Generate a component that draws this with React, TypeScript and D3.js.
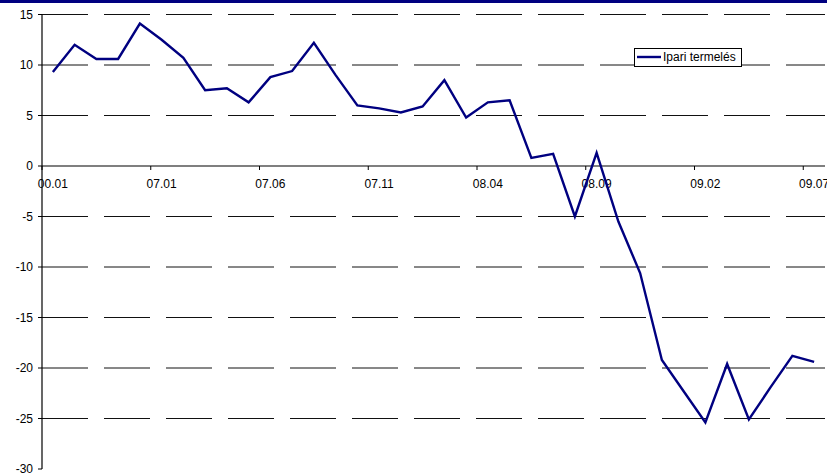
import React from "react";
import * as d3 from "d3";

const categories: string[] = [
  "06.08","06.09","06.10","06.11","06.12","07.01","07.02","07.03","07.04","07.05",
  "07.06","07.07","07.08","07.09","07.10","07.11","07.12","08.01","08.02","08.03",
  "08.04","08.05","08.06","08.07","08.08","08.09","08.10","08.11","08.12","09.01",
  "09.02","09.03","09.04","09.05","09.06","09.07",
];
const values: number[] = [
  9.3, 12.0, 10.6, 10.6, 14.1, 12.5, 10.7, 7.5, 7.7, 6.3,
  8.8, 9.4, 12.2, 9.0, 6.0, 5.7, 5.3, 5.9, 8.5, 4.8,
  6.3, 6.5, 0.8, 1.2, -5.0, 1.3, -5.5, -10.6, -19.2, -22.3,
  -25.4, -19.6, -25.1, -21.9, -18.8, -19.4,
];
const tickLabels: { index: number; label: string }[] = [
  { index: 0, label: "00.01" },
  { index: 5, label: "07.01" },
  { index: 10, label: "07.06" },
  { index: 15, label: "07.11" },
  { index: 20, label: "08.04" },
  { index: 25, label: "08.09" },
  { index: 30, label: "09.02" },
  { index: 35, label: "09.07" },
];
const yTicks: number[] = [15, 10, 5, 0, -5, -10, -15, -20, -25, -30];
const seriesName = "Ipari termelés";

export default function App() {
  const W = 827, H = 475;
  const left = 42, right = 825, top = 14.5, bottom = 469;
  const x = d3.scaleBand<string>().domain(categories).range([left, right]).paddingInner(0).paddingOuter(0);
  const y = d3.scaleLinear().domain([-30, 15]).range([bottom, top]);
  const cx = (i: number) => (x(categories[i]) as number) + x.bandwidth() / 2;
  const line = d3.line<number>().x((_, i) => cx(i)).y((d) => y(d));
  const font = "'Liberation Sans', Arial, sans-serif";
  const y0 = y(0);

  return (
    <svg width={W} height={H} style={{ position: "absolute", left: 0, top: 0, background: "#fff" }}>
      <rect x={0} y={0} width={W} height={H} fill="#fff" />
      <rect x={0} y={0} width={W} height={3} fill="#000080" />
      {/* gridlines */}
      {yTicks.filter((t) => t !== 0 && t !== -30).map((t) => (
        <line key={"g" + t} x1={left} x2={right} y1={y(t)} y2={y(t)} stroke="#111" strokeWidth={1} strokeDasharray="46 16" />
      ))}
      {/* y axis */}
      <line x1={left} x2={left} y1={top} y2={bottom} stroke="#000" strokeWidth={1.2} />
      {yTicks.map((t) => (
        <g key={"y" + t}>
          <line x1={left - 4} x2={left} y1={y(t)} y2={y(t)} stroke="#000" />
          <text x={left - 9} y={y(t)} dy="0.35em" textAnchor="end" fontFamily={font} fontSize={12} fill="#000">{t}</text>
        </g>
      ))}
      {/* x axis at 0 */}
      <line x1={left} x2={right} y1={y0} y2={y0} stroke="#000" strokeWidth={1.2} />
      {d3.range(0, categories.length + 1, 5).map((i) => {
        const xx = left + i * x.step();
        return <line key={"xt" + i} x1={xx} x2={xx} y1={y0} y2={y0 + 4} stroke="#000" />;
      })}
      {tickLabels.map((t) => (
        <text key={"xl" + t.index} x={cx(t.index)} y={y0 + 21.5} textAnchor="middle" fontFamily={font} fontSize={12} fill="#000">{t.label}</text>
      ))}
      {/* series */}
      <path d={line(values) || ""} fill="none" stroke="#000080" strokeWidth={2.4} strokeLinejoin="miter" />
      {/* legend */}
      <rect x={634.5} y={48.5} width={107} height={18} fill="#fff" stroke="#000" strokeWidth={1} />
      <line x1={637} x2={661} y1={57} y2={57} stroke="#000080" strokeWidth={2.4} />
      <text x={663} y={57} dy="0.35em" fontFamily={font} fontSize={12} fill="#000">{seriesName}</text>
    </svg>
  );
}
